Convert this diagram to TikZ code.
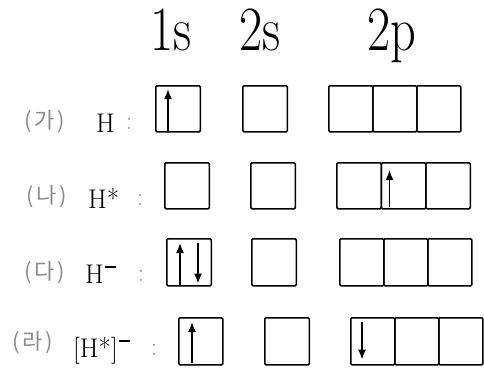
\documentclass[tikz,border=0pt]{standalone}
\usepackage{fontspec}
\newfontfamily\krfont{Noto Sans CJK KR}
\usetikzlibrary{arrows.meta}
\newcommand{\supminus}{\kern1pt\raisebox{15.5pt}{\rule{11pt}{1.3pt}}}
\begin{document}
\begin{tikzpicture}[x=1pt,y=-1pt,
  orb/.style={draw, line width=1.6pt, rounded corners=1.2pt, minimum height=46pt, minimum width=44.5pt, inner sep=0pt, anchor=north west},
  spin/.style={line width=1.6pt, -{Latex[length=10pt,width=8pt]}},
  hdr/.style={font=\fontsize{63}{63}\selectfont, anchor=base, inner sep=0pt},
  kor/.style={font=\krfont\fontsize{22}{22}\selectfont, text=black!45, anchor=west, inner sep=0pt},
  sym/.style={font=\fontsize{27}{27}\selectfont, anchor=base west, inner sep=0pt},
  colon/.style={font=\fontsize{26}{26}\selectfont, text=black!40, inner sep=0pt}]
\useasboundingbox (0,0) rectangle (484,372);
% headers
\node[hdr] (h1s) at (171,50) {\scalebox{0.8}[1]{1s}};
\node[hdr] (h2s) at (260,50) {\scalebox{0.8}[1]{2s}};
\node[hdr] (h2p) at (392,50) {\scalebox{0.8}[1]{2p}};
% row 1
\node[kor] (k1) at (24,122) {(\kern3pt가\kern3pt)};
\node[sym] (s1) at (96,132) {H};
\node[colon] (c1) at (129,124) {:};
\node[orb] (a1) at (155,85) {};
\node[orb] (a2) at (242,85) {};
\node[orb, minimum width=44pt] (a3) at (328,85) {};
\node[orb, minimum width=44pt] (a4) at (372,85) {};
\node[orb, minimum width=44pt] (a5) at (416,85) {};
% row 2
\node[kor] (k2) at (26,197) {(\kern3pt나\kern3pt)};
\node[sym] (s2) at (88,208) {H*};
\node[colon] (c2) at (140,200) {:};
\node[orb] (b1) at (164,162) {};
\node[orb] (b2) at (250,162) {};
\node[orb] (b3) at (336,162) {};
\node[orb] (b4) at (380.5,162) {};
\node[orb] (b5) at (425,162) {};
% row 3
\node[kor] (k3) at (24,273) {(\kern3pt다\kern3pt)};
\node[sym] (s3) at (85,283) {H\supminus};
\node[colon] (c3) at (141,276) {:};
\node[orb, minimum height=47pt] (d1) at (166,238) {};
\node[orb, minimum height=47pt] (d2) at (251,238) {};
\node[orb, minimum height=47pt, minimum width=44pt] (d3) at (339,238) {};
\node[orb, minimum height=47pt, minimum width=44pt] (d4) at (383,238) {};
\node[orb, minimum height=47pt, minimum width=44pt] (d5) at (427,238) {};
% row 4
\node[kor] (k4) at (12,343) {(\kern3pt라\kern3pt)};
\node[sym] (s4) at (73,357) {[H*]\supminus};
\node[colon] (c4) at (154,350) {:};
\node[orb, minimum height=47pt, minimum width=44pt] (e1) at (178,317) {};
\node[orb, minimum height=47pt] (e2) at (264,317) {};
\node[orb, minimum height=47pt, minimum width=44pt] (e3) at (350,317) {};
\node[orb, minimum height=47pt, minimum width=44pt] (e4) at (394,317) {};
\node[orb, minimum height=47pt, minimum width=44pt] (e5) at (438,317) {};
% spins
\draw[spin] ([xshift=13pt,yshift=2pt]a1.south west) -- ([xshift=13pt,yshift=-4pt]a1.north west);
\draw[spin] ([xshift=9pt,yshift=3pt]b4.south west) -- ([xshift=9pt,yshift=-8pt]b4.north west);
\draw[spin] ([xshift=14pt,yshift=2pt]d1.south west) -- ([xshift=14pt,yshift=-5pt]d1.north west);
\draw[spin] ([xshift=32pt,yshift=-5pt]d1.north west) -- ([xshift=32pt,yshift=3pt]d1.south west);
\draw[spin] ([xshift=14pt,yshift=3pt]e1.south west) -- ([xshift=14pt,yshift=-5pt]e1.north west);
\draw[spin] ([xshift=12pt,yshift=-5pt]e3.north west) -- ([xshift=12pt,yshift=6pt]e3.south west);
\end{tikzpicture}
\end{document}
